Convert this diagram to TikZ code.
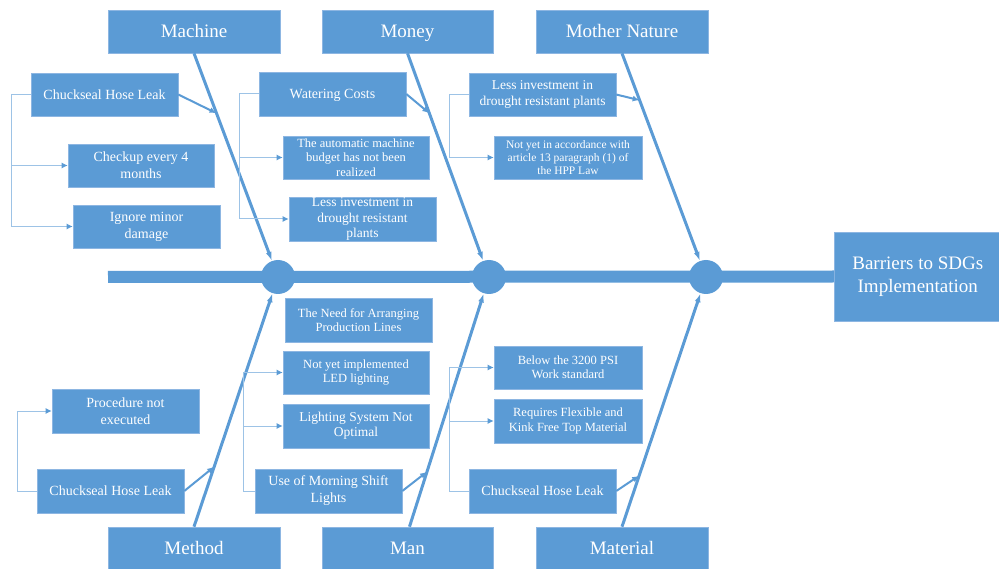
\documentclass[tikz,border=0pt]{standalone}
\usepackage{fontspec}
\setmainfont{Liberation Serif}
\usetikzlibrary{arrows.meta,calc}
\definecolor{fb}{HTML}{5B9BD5}
\definecolor{fbl}{HTML}{9DC3E6}
\definecolor{fbd}{HTML}{8DB6E2}
\begin{document}
\begin{tikzpicture}[x=1pt,y=-1pt,
 box/.style={rectangle, fill=fb, draw=fbd, line width=0.6pt, text=white, align=center, inner sep=0pt},
 wh/.style 2 args={minimum width=#1pt, minimum height=#2pt},
 big/.style={font=\fontsize{19}{23}\selectfont},
 cat/.style={big, text height=12.5pt, text depth=0pt},
 med/.style={font=\fontsize{14}{17}\selectfont},
 one/.style={med, text height=9.5pt, text depth=0pt},
 mid/.style={font=\fontsize{13.5}{15.5}\selectfont},
 sml/.style={font=\fontsize{12.5}{14.5}\selectfont},
 tiny/.style={font=\fontsize{11.5}{12.8}\selectfont},
 hub/.style={circle, fill=fb, minimum size=34pt, inner sep=0pt},
 bone/.style={draw=fb, line width=3pt, -{Latex[length=9pt,width=6pt]}},
 twig/.style={draw=fb, line width=2pt, -{Latex[length=7pt,width=6pt]}},
 brka/.style={draw=fbl, line width=1pt, -{Latex[length=6pt,width=6pt,color=fb]}},
]
\useasboundingbox (0,0) rectangle (999,569);

% spine and head
\node[box,big,wh={167}{89}, anchor=west] (head) at (834,276.5) {Barriers to SDGs\\Implementation};
\coordinate (tail) at (108,277);
\draw[fb, line width=12pt] (tail) -- (head.west);
\node[hub] (c1) at (278,277) {};
\node[hub] (c2) at (489,277) {};
\node[hub] (c3) at (706,277) {};

% category boxes
\node[box,cat,wh={172}{43}] (machine) at (194,31.5) {Machine};
\node[box,cat,wh={171}{43}] (money) at (407.5,31.5) {Money};
\node[box,cat,wh={172}{43}] (nature) at (622,31.5) {Mother Nature};
\node[box,cat,wh={172}{43}] (method) at (194,548.5) {Method};
\node[box,cat,wh={171}{43}] (man) at (407.5,548.5) {Man};
\node[box,cat,wh={172}{43}] (material) at (622,548.5) {Material};

% bones
\draw[bone] (machine.south) -- (c1);
\draw[bone] (money.south) -- (c2);
\draw[bone] (nature.south) -- (c3);
\draw[bone] (method.north) -- (c1);
\draw[bone] ([xshift=2pt]man.north) -- (c2);
\draw[bone] (material.north) -- (c3);

\path (machine.south) -- (c1.center) coordinate[pos=0.268] (mb);
\path (money.south) -- (c2.center) coordinate[pos=0.268] (ob);
\path (nature.south) -- (c3.center) coordinate[pos=0.21] (nb);
\path (method.north) -- (c1.center) coordinate[pos=0.24] (tb);
\path ([xshift=2pt]man.north) -- (c2.center) coordinate[pos=0.22] (ab);
\path (material.north) -- (c3.center) coordinate[pos=0.204] (rb);

% Machine group
\node[box,one,wh={147}{43}] (m1) at (104.5,94.5) {Chuckseal Hose Leak};
\node[box,med,wh={146}{43}] (m2) at (141,165.5) {Checkup every 4\\months};
\node[box,med,wh={147}{43}] (m3) at (146.5,226.5) {Ignore minor\\damage};
\coordinate (mx) at (11,0);
\draw[brka] (m1.west) -| (mx |- m3.west) -- (m3.west);
\draw[brka] (mx |- m2.west) -- (m2.west);
\draw[twig] (m1.east) -- (mb);

% Money group
\node[box,one,wh={147}{44}] (o1) at (332.5,94) {Watering Costs};
\node[box,sml,wh={146}{43}] (o2) at (356,157.5) {The automatic machine\\budget has not been\\realized};
\node[box,mid,wh={147}{44}] (o3) at (362.5,219) {Less investment in\\drought resistant\\plants};
\coordinate (ox) at (239,0);
\draw[brka] (o1.west) -| (ox |- o3.west) -- (o3.west);
\draw[brka] (ox |- o2.west) -- (o2.west);
\draw[twig] (o1.east) -- (ob);

% Mother Nature group
\node[box,mid,wh={147}{43}] (n1) at (542.5,94.5) {Less investment in\\drought resistant plants};
\node[box,tiny,wh={148}{43}] (n2) at (568,157.5) {Not yet in accordance with\\article 13 paragraph (1) of\\the HPP Law};
\coordinate (nx) at (449,0);
\draw[brka] (n1.west) -| (nx |- n2.west) -- (n2.west);
\draw[twig] (n1.east) -- (nb);

% Method group
\node[box,med,wh={147}{44}] (t1) at (125.5,411) {Procedure not\\executed};
\node[box,one,wh={147}{44}] (t2) at (110.5,491) {Chuckseal Hose Leak};
\coordinate (tx) at (17,0);
\draw[brka] (t2.west) -| (tx |- t1.west) -- (t1.west);
\draw[twig] (t2.east) -- (tb);

% Man group
\node[box,sml,wh={147}{44}] (a1) at (358.5,320) {The Need for Arranging\\Production Lines};
\node[box,sml,wh={146}{43}] (a2) at (356,372.5) {Not yet implemented\\LED lighting};
\node[box,mid,wh={146}{44}] (a3) at (356,426) {Lighting System Not\\Optimal};
\node[box,med,wh={147}{44}] (a4) at (328.5,491) {Use of Morning Shift\\Lights};
\coordinate (ax) at (243,0);
\draw[brka] (a4.west) -| (ax |- a2.west) -- (a2.west);
\draw[brka] (ax |- a3.west) -- (a3.west);
\draw[twig] (a4.east) -- (ab);

% Material group
\node[box,sml,wh={148}{43}] (r1) at (568,367.5) {Below the 3200 PSI\\Work standard};
\node[box,sml,wh={148}{44}] (r2) at (568,421) {Requires Flexible and\\Kink Free Top Material};
\node[box,one,wh={147}{44}] (r3) at (542.5,491) {Chuckseal Hose Leak};
\coordinate (rx) at (449,0);
\draw[brka] (r3.west) -| (rx |- r1.west) -- (r1.west);
\draw[brka] (rx |- r2.west) -- (r2.west);
\draw[twig] (r3.east) -- (rb);
\end{tikzpicture}
\end{document}
